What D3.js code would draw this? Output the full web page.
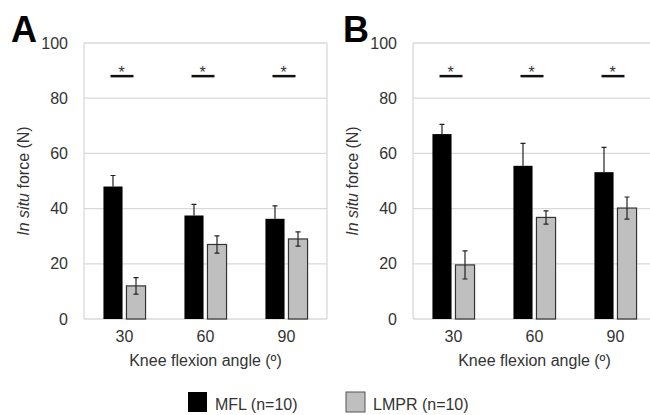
<!DOCTYPE html>
<html>
<head>
<meta charset="utf-8">
<script src="https://cdn.jsdelivr.net/npm/d3@7"></script>
<style>
  body { margin: 0; background: #fff; }
  svg text { font-family: "Liberation Sans", Arial, sans-serif; }
</style>
</head>
<body>
<div class="container"></div>
<script>
const angles = ['30', '60', '90']
const series = ['MFL (n=10)', 'LMPR (n=10)']
const yTicks = [0, 20, 40, 60, 80, 100]

// panel A
const mflA = [48, 37.5, 36.3]
const mflErrA = [4, 4, 4.7]
const lmprA = [12, 27, 29]
const lmprErrA = [3, 3.1, 2.6]

// panel B
const mflB = [67, 55.5, 53.2]
const mflErrB = [3.5, 8.1, 9]
const lmprB = [19.6, 36.8, 40.2]
const lmprErrB = [5.1, 2.4, 4]

const sigLevel = 88

const width = 650
const height = 415
const fills = ['#000000', '#bfbfbf']

const svg = d3.select('.container')
    .append('svg')
    .attr('width', width)
    .attr('height', height)

svg.append('rect').attr('width', width).attr('height', height).attr('fill', '#fff')

const y = d3.scaleLinear().domain([0, 100]).range([319, 43])

function drawPanel(letter, letterX, left, right, mfl, mflErr, lmpr, lmprErr) {
    const g = svg.append('g')

    const x0 = d3.scaleBand().domain(angles).range([left, right])
        .paddingInner(0.48).paddingOuter(0.24)
    const x1 = d3.scaleBand().domain(series).range([0, x0.bandwidth()]).paddingInner(0.17)
    const cx = d => x0(d.angle) + x1(d.s) + x1.bandwidth() / 2

    // gridlines
    g.selectAll('.grid')
        .data(yTicks)
        .join('line')
        .attr('x1', left).attr('x2', right)
        .attr('y1', d => y(d)).attr('y2', d => y(d))
        .attr('stroke', '#d9d9d9')
        .attr('stroke-width', 1.3)

    g.selectAll('.side')
        .data([left, right])
        .join('line')
        .attr('x1', d => d).attr('x2', d => d)
        .attr('y1', y(100)).attr('y2', y(0))
        .attr('stroke', '#d9d9d9').attr('stroke-width', 1.3)

    // y axis labels
    const yAxis = d3.axisLeft(y).tickValues(yTicks).tickSize(0).tickPadding(16)
    const ya = g.append('g').attr('transform', `translate(${left},0)`).call(yAxis)
    ya.select('.domain').remove()
    ya.selectAll('text').attr('font-size', 16).attr('fill', '#333')
        .attr('font-family', '"Liberation Sans", Arial, sans-serif')

    // x axis labels
    const xAxis = d3.axisBottom(x0).tickSize(0).tickPadding(12)
    const xa = g.append('g').attr('transform', `translate(0,${y(0)})`).call(xAxis)
    xa.select('.domain').remove()
    xa.selectAll('text').attr('font-size', 16).attr('fill', '#333')
        .attr('font-family', '"Liberation Sans", Arial, sans-serif')

    const rows = angles.map((a, i) => [
        { angle: a, s: series[0], v: mfl[i], e: mflErr[i], c: fills[0] },
        { angle: a, s: series[1], v: lmpr[i], e: lmprErr[i], c: fills[1] }
    ]).flat()

    // upper error bars (behind the bars)
    g.selectAll('.errUp')
        .data(rows)
        .join('path')
        .attr('d', d => `M${cx(d)},${y(d.v)}V${y(d.v + d.e)}M${cx(d) - 2.5},${y(d.v + d.e)}h5`)
        .attr('stroke', '#222').attr('stroke-width', 1.2).attr('fill', 'none')

    g.selectAll('.bar')
        .data(rows)
        .join('rect')
        .attr('x', d => x0(d.angle) + x1(d.s))
        .attr('y', d => y(d.v))
        .attr('width', x1.bandwidth())
        .attr('height', d => y(0) - y(d.v))
        .attr('fill', d => d.c)
        .attr('stroke', d => d.c === '#000000' ? 'none' : '#333')
        .attr('stroke-width', 1.2)

    // lower error bars on the grey bars
    g.selectAll('.errLow')
        .data(rows.filter(d => d.s === series[1]))
        .join('path')
        .attr('d', d => `M${cx(d)},${y(d.v)}V${y(d.v - d.e)}M${cx(d) - 2.5},${y(d.v - d.e)}h5`)
        .attr('stroke', '#222').attr('stroke-width', 1.2).attr('fill', 'none')

    // significance markers
    g.selectAll('.sig')
        .data(angles)
        .join('line')
        .attr('x1', d => x0(d) + x0.bandwidth() / 2 - 14)
        .attr('x2', d => x0(d) + x0.bandwidth() / 2 + 9)
        .attr('y1', y(sigLevel)).attr('y2', y(sigLevel))
        .attr('stroke', '#111').attr('stroke-width', 2.5)
    g.selectAll('.star')
        .data(angles)
        .join('text')
        .attr('x', d => x0(d) + x0.bandwidth() / 2 - 3)
        .attr('y', y(sigLevel) + 1.5)
        .attr('text-anchor', 'middle')
        .attr('font-size', 16)
        .attr('fill', '#333')
        .text('*')

    // axis titles
    const cy = (y(0) + y(100)) / 2
    const yt = g.append('text')
        .attr('transform', `translate(${left - 55},${cy}) rotate(-90)`)
        .attr('text-anchor', 'middle')
        .attr('font-size', 16)
        .attr('fill', '#333')
    yt.append('tspan').attr('font-style', 'italic').text('In situ')
    yt.append('tspan').text(' force (N)')

    g.append('text')
        .attr('x', left + 243 / 2)
        .attr('y', 366)
        .attr('text-anchor', 'middle')
        .attr('font-size', 16)
        .attr('fill', '#333')
        .text('Knee flexion angle (º)')

    g.append('text')
        .attr('x', letterX)
        .attr('y', 42)
        .attr('font-size', 36)
        .attr('font-weight', 'bold')
        .attr('fill', '#000')
        .text(letter)
}

drawPanel('A', 11, 84, 327, mflA, mflErrA, lmprA, lmprErrA)
drawPanel('B', 343, 413, 656, mflB, mflErrB, lmprB, lmprErrB)

// legend
const legendX = d3.scalePoint().domain(series).range([188, 346])
const leg = svg.selectAll('.leg').data(series).join('g')
    .attr('transform', d => `translate(${legendX(d)},392)`)
leg.append('rect')
    .attr('width', 19).attr('height', 20)
    .attr('fill', (d, i) => fills[i])
    .attr('stroke', (d, i) => i ? '#555' : 'none')
leg.append('text')
    .attr('x', 27).attr('y', 18)
    .attr('font-size', 16)
    .attr('fill', '#333')
    .text(d => d)
</script>
</body>
</html>
